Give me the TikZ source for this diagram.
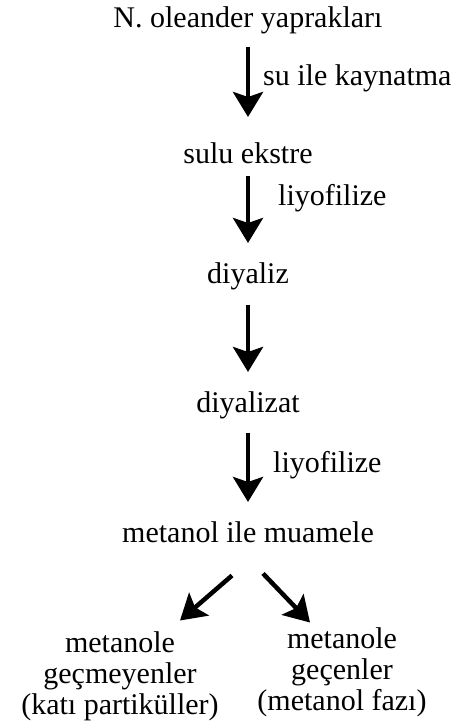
\documentclass[tikz,border=0pt]{standalone}
\usepackage{fontspec}
\setmainfont{Liberation Serif}
\usetikzlibrary{positioning, arrows.meta}

\begin{document}
\begin{tikzpicture}[x=1pt, y=-1pt, >={Stealth[length=25pt, width=30pt, inset=5pt]},
    font=\fontsize{30}{31}\selectfont,
    stage/.style={inner sep=0pt, anchor=base},
    note/.style={inner sep=0pt, anchor=base west},
    result/.style={inner sep=0pt, anchor=north, align=center},
    arr/.style={->, line width=4.5pt, shorten <=13pt, shorten >=19pt},
    diag/.style={->, line width=4.5pt}]

    \useasboundingbox (0,0) rectangle (475,726);

    % Draw stages
    \node (leaves) [stage] at (248,27) {N. oleander yaprakları};
    \node (extract) [stage] at (248,163) {sulu ekstre};
    \node (dialysis) [stage] at (248,283) {diyaliz};
    \node (dialysate) [stage] at (248,412) {diyalizat};
    \node (methanol) [stage] at (248,542) {metanol ile muamele};
    \node (insoluble) [result] at (120,631.5) {metanole\\geçmeyenler\\(katı partiküller)};
    \node (soluble) [result] at (342,627.5) {metanole\\geçenler\\(metanol fazı)};

    % Draw labels
    \node (boil) [note] at (263,85) {su ile kaynatma};
    \node (dry1) [note] at (278,205) {liyofilize};
    \node (dry2) [note] at (273,472) {liyofilize};

    % Draw arrows
    \draw[arr, shorten >=25pt] (leaves) -- (extract);
    \draw[arr] (extract) -- (dialysis);
    \draw[arr, shorten <=15pt] (dialysis) -- (dialysate);
    \draw[arr, shorten <=14pt] (dialysate) -- (methanol);
    \draw[diag] ([xshift=-16pt, yshift=-33pt]methanol.south) -- ([xshift=60pt, yshift=11pt]insoluble.north);
    \draw[diag] ([xshift=15pt, yshift=-31pt]methanol.south) -- ([xshift=-32pt, yshift=5pt]soluble.north);

\end{tikzpicture}
\end{document}
